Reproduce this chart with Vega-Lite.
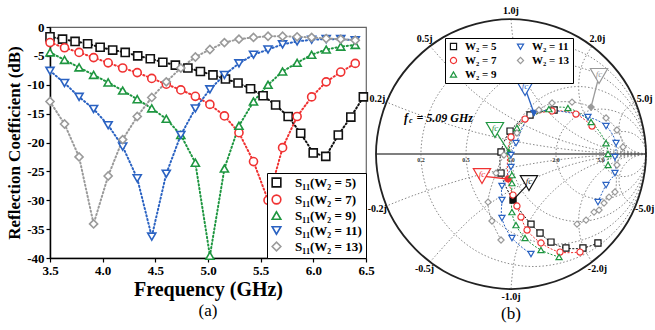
{
"$schema": "https://vega.github.io/schema/vega-lite/v6.json",
"background": "white",
"padding": 5,
"bounds": "flush",
"spacing": 5,
"config": {"font": "Liberation Serif", "view": {"stroke": null}},
"resolve": {"scale": {"color": "independent", "shape": "independent"}, "legend": {"color": "independent", "shape": "independent"}},
"datasets": {
"s11": [
{"s":"S₁₁(W₂ = 5)","f":3.5,"d":-1.7},{"s":"S₁₁(W₂ = 5)","f":3.619,"d":-2.1},{"s":"S₁₁(W₂ = 5)","f":3.738,"d":-2.5},{"s":"S₁₁(W₂ = 5)","f":3.857,"d":-2.9},{"s":"S₁₁(W₂ = 5)","f":3.976,"d":-3.5},{"s":"S₁₁(W₂ = 5)","f":4.095,"d":-4.0},{"s":"S₁₁(W₂ = 5)","f":4.214,"d":-4.4},{"s":"S₁₁(W₂ = 5)","f":4.333,"d":-5.0},{"s":"S₁₁(W₂ = 5)","f":4.452,"d":-5.5},{"s":"S₁₁(W₂ = 5)","f":4.571,"d":-6.1},{"s":"S₁₁(W₂ = 5)","f":4.69,"d":-6.6},{"s":"S₁₁(W₂ = 5)","f":4.809,"d":-7.1},{"s":"S₁₁(W₂ = 5)","f":4.928,"d":-7.7},{"s":"S₁₁(W₂ = 5)","f":5.047,"d":-8.3},{"s":"S₁₁(W₂ = 5)","f":5.166,"d":-9.0},{"s":"S₁₁(W₂ = 5)","f":5.285,"d":-9.7},{"s":"S₁₁(W₂ = 5)","f":5.404,"d":-10.7},{"s":"S₁₁(W₂ = 5)","f":5.523,"d":-11.9},{"s":"S₁₁(W₂ = 5)","f":5.642,"d":-13.5},{"s":"S₁₁(W₂ = 5)","f":5.761,"d":-15.5},{"s":"S₁₁(W₂ = 5)","f":5.88,"d":-18.4},{"s":"S₁₁(W₂ = 5)","f":5.999,"d":-21.8},{"s":"S₁₁(W₂ = 5)","f":6.118,"d":-22.4},{"s":"S₁₁(W₂ = 5)","f":6.237,"d":-18.7},{"s":"S₁₁(W₂ = 5)","f":6.356,"d":-15.6},{"s":"S₁₁(W₂ = 5)","f":6.475,"d":-12.1},
{"s":"S₁₁(W₂ = 7)","f":3.5,"d":-2.7},{"s":"S₁₁(W₂ = 7)","f":3.638,"d":-3.6},{"s":"S₁₁(W₂ = 7)","f":3.776,"d":-4.4},{"s":"S₁₁(W₂ = 7)","f":3.914,"d":-5.3},{"s":"S₁₁(W₂ = 7)","f":4.052,"d":-6.2},{"s":"S₁₁(W₂ = 7)","f":4.19,"d":-7.1},{"s":"S₁₁(W₂ = 7)","f":4.328,"d":-7.9},{"s":"S₁₁(W₂ = 7)","f":4.466,"d":-8.9},{"s":"S₁₁(W₂ = 7)","f":4.604,"d":-9.9},{"s":"S₁₁(W₂ = 7)","f":4.742,"d":-10.9},{"s":"S₁₁(W₂ = 7)","f":4.88,"d":-12.0},{"s":"S₁₁(W₂ = 7)","f":5.018,"d":-13.4},{"s":"S₁₁(W₂ = 7)","f":5.156,"d":-15.4},{"s":"S₁₁(W₂ = 7)","f":5.294,"d":-18.3},{"s":"S₁₁(W₂ = 7)","f":5.432,"d":-23.3},{"s":"S₁₁(W₂ = 7)","f":5.57,"d":-30.0},{"s":"S₁₁(W₂ = 7)","f":5.708,"d":-20.9},{"s":"S₁₁(W₂ = 7)","f":5.846,"d":-15.5},{"s":"S₁₁(W₂ = 7)","f":5.984,"d":-12.1},{"s":"S₁₁(W₂ = 7)","f":6.122,"d":-9.5},{"s":"S₁₁(W₂ = 7)","f":6.26,"d":-7.8},{"s":"S₁₁(W₂ = 7)","f":6.398,"d":-6.3},
{"s":"S₁₁(W₂ = 9)","f":3.5,"d":-4.4},{"s":"S₁₁(W₂ = 9)","f":3.638,"d":-5.7},{"s":"S₁₁(W₂ = 9)","f":3.776,"d":-7.0},{"s":"S₁₁(W₂ = 9)","f":3.914,"d":-8.3},{"s":"S₁₁(W₂ = 9)","f":4.052,"d":-9.6},{"s":"S₁₁(W₂ = 9)","f":4.19,"d":-11.0},{"s":"S₁₁(W₂ = 9)","f":4.328,"d":-12.5},{"s":"S₁₁(W₂ = 9)","f":4.466,"d":-14.1},{"s":"S₁₁(W₂ = 9)","f":4.604,"d":-15.9},{"s":"S₁₁(W₂ = 9)","f":4.742,"d":-18.7},{"s":"S₁₁(W₂ = 9)","f":4.88,"d":-23.5},{"s":"S₁₁(W₂ = 9)","f":5.018,"d":-39.6},{"s":"S₁₁(W₂ = 9)","f":5.156,"d":-24.5},{"s":"S₁₁(W₂ = 9)","f":5.294,"d":-17.1},{"s":"S₁₁(W₂ = 9)","f":5.432,"d":-12.9},{"s":"S₁₁(W₂ = 9)","f":5.57,"d":-10.0},{"s":"S₁₁(W₂ = 9)","f":5.708,"d":-7.7},{"s":"S₁₁(W₂ = 9)","f":5.846,"d":-6.2},{"s":"S₁₁(W₂ = 9)","f":5.984,"d":-4.8},{"s":"S₁₁(W₂ = 9)","f":6.122,"d":-3.9},{"s":"S₁₁(W₂ = 9)","f":6.26,"d":-3.4},{"s":"S₁₁(W₂ = 9)","f":6.398,"d":-3.1},
{"s":"S₁₁(W₂ = 11)","f":3.5,"d":-7.6},{"s":"S₁₁(W₂ = 11)","f":3.638,"d":-9.7},{"s":"S₁₁(W₂ = 11)","f":3.776,"d":-12.1},{"s":"S₁₁(W₂ = 11)","f":3.914,"d":-14.2},{"s":"S₁₁(W₂ = 11)","f":4.052,"d":-17.0},{"s":"S₁₁(W₂ = 11)","f":4.19,"d":-20.7},{"s":"S₁₁(W₂ = 11)","f":4.328,"d":-26.2},{"s":"S₁₁(W₂ = 11)","f":4.466,"d":-36.3},{"s":"S₁₁(W₂ = 11)","f":4.604,"d":-25.4},{"s":"S₁₁(W₂ = 11)","f":4.742,"d":-18.7},{"s":"S₁₁(W₂ = 11)","f":4.88,"d":-14.1},{"s":"S₁₁(W₂ = 11)","f":5.018,"d":-10.8},{"s":"S₁₁(W₂ = 11)","f":5.156,"d":-8.3},{"s":"S₁₁(W₂ = 11)","f":5.294,"d":-6.3},{"s":"S₁₁(W₂ = 11)","f":5.432,"d":-4.8},{"s":"S₁₁(W₂ = 11)","f":5.57,"d":-3.9},{"s":"S₁₁(W₂ = 11)","f":5.708,"d":-3.0},{"s":"S₁₁(W₂ = 11)","f":5.846,"d":-2.5},{"s":"S₁₁(W₂ = 11)","f":5.984,"d":-2.2},{"s":"S₁₁(W₂ = 11)","f":6.122,"d":-2.1},{"s":"S₁₁(W₂ = 11)","f":6.26,"d":-2.1},{"s":"S₁₁(W₂ = 11)","f":6.398,"d":-2.3},
{"s":"S₁₁(W₂ = 13)","f":3.5,"d":-12.9},{"s":"S₁₁(W₂ = 13)","f":3.638,"d":-16.8},{"s":"S₁₁(W₂ = 13)","f":3.776,"d":-22.5},{"s":"S₁₁(W₂ = 13)","f":3.914,"d":-34.1},{"s":"S₁₁(W₂ = 13)","f":4.052,"d":-25.8},{"s":"S₁₁(W₂ = 13)","f":4.19,"d":-19.5},{"s":"S₁₁(W₂ = 13)","f":4.328,"d":-15.5},{"s":"S₁₁(W₂ = 13)","f":4.466,"d":-12.2},{"s":"S₁₁(W₂ = 13)","f":4.604,"d":-9.5},{"s":"S₁₁(W₂ = 13)","f":4.742,"d":-7.1},{"s":"S₁₁(W₂ = 13)","f":4.88,"d":-5.2},{"s":"S₁₁(W₂ = 13)","f":5.018,"d":-3.9},{"s":"S₁₁(W₂ = 13)","f":5.156,"d":-2.7},{"s":"S₁₁(W₂ = 13)","f":5.294,"d":-2.1},{"s":"S₁₁(W₂ = 13)","f":5.432,"d":-1.8},{"s":"S₁₁(W₂ = 13)","f":5.57,"d":-1.6},{"s":"S₁₁(W₂ = 13)","f":5.708,"d":-1.6},{"s":"S₁₁(W₂ = 13)","f":5.846,"d":-1.7},{"s":"S₁₁(W₂ = 13)","f":5.984,"d":-1.8},{"s":"S₁₁(W₂ = 13)","f":6.122,"d":-2.0},{"s":"S₁₁(W₂ = 13)","f":6.26,"d":-2.1},{"s":"S₁₁(W₂ = 13)","f":6.398,"d":-2.3}
],
"rc": [
{"g":"r0.2","i":0,"x":1,"y":0},{"g":"r0.2","i":1,"x":0.888,"y":0.417},{"g":"r0.2","i":2,"x":0.583,"y":0.722},{"g":"r0.2","i":3,"x":0.167,"y":0.833},{"g":"r0.2","i":4,"x":-0.25,"y":0.722},{"g":"r0.2","i":5,"x":-0.555,"y":0.417},{"g":"r0.2","i":6,"x":-0.667,"y":0},{"g":"r0.2","i":7,"x":-0.555,"y":-0.417},{"g":"r0.2","i":8,"x":-0.25,"y":-0.722},{"g":"r0.2","i":9,"x":0.167,"y":-0.833},{"g":"r0.2","i":10,"x":0.583,"y":-0.722},{"g":"r0.2","i":11,"x":0.888,"y":-0.417},
{"g":"r0.5","i":0,"x":1,"y":0},{"g":"r0.5","i":1,"x":0.911,"y":0.333},{"g":"r0.5","i":2,"x":0.667,"y":0.577},{"g":"r0.5","i":3,"x":0.333,"y":0.667},{"g":"r0.5","i":4,"x":0,"y":0.577},{"g":"r0.5","i":5,"x":-0.244,"y":0.333},{"g":"r0.5","i":6,"x":-0.333,"y":0},{"g":"r0.5","i":7,"x":-0.244,"y":-0.333},{"g":"r0.5","i":8,"x":0,"y":-0.577},{"g":"r0.5","i":9,"x":0.333,"y":-0.667},{"g":"r0.5","i":10,"x":0.667,"y":-0.577},{"g":"r0.5","i":11,"x":0.911,"y":-0.333},
{"g":"r1","i":0,"x":1,"y":0},{"g":"r1","i":1,"x":0.933,"y":0.25},{"g":"r1","i":2,"x":0.75,"y":0.433},{"g":"r1","i":3,"x":0.5,"y":0.5},{"g":"r1","i":4,"x":0.25,"y":0.433},{"g":"r1","i":5,"x":0.067,"y":0.25},{"g":"r1","i":6,"x":0,"y":0},{"g":"r1","i":7,"x":0.067,"y":-0.25},{"g":"r1","i":8,"x":0.25,"y":-0.433},{"g":"r1","i":9,"x":0.5,"y":-0.5},{"g":"r1","i":10,"x":0.75,"y":-0.433},{"g":"r1","i":11,"x":0.933,"y":-0.25},
{"g":"r2","i":0,"x":1,"y":0},{"g":"r2","i":1,"x":0.955,"y":0.167},{"g":"r2","i":2,"x":0.833,"y":0.289},{"g":"r2","i":3,"x":0.667,"y":0.333},{"g":"r2","i":4,"x":0.5,"y":0.289},{"g":"r2","i":5,"x":0.378,"y":0.167},{"g":"r2","i":6,"x":0.333,"y":0},{"g":"r2","i":7,"x":0.378,"y":-0.167},{"g":"r2","i":8,"x":0.5,"y":-0.289},{"g":"r2","i":9,"x":0.667,"y":-0.333},{"g":"r2","i":10,"x":0.833,"y":-0.289},{"g":"r2","i":11,"x":0.955,"y":-0.167},
{"g":"r5","i":0,"x":1,"y":0},{"g":"r5","i":1,"x":0.978,"y":0.083},{"g":"r5","i":2,"x":0.917,"y":0.144},{"g":"r5","i":3,"x":0.833,"y":0.167},{"g":"r5","i":4,"x":0.75,"y":0.144},{"g":"r5","i":5,"x":0.689,"y":0.083},{"g":"r5","i":6,"x":0.667,"y":0},{"g":"r5","i":7,"x":0.689,"y":-0.083},{"g":"r5","i":8,"x":0.75,"y":-0.144},{"g":"r5","i":9,"x":0.833,"y":-0.167},{"g":"r5","i":10,"x":0.917,"y":-0.144},{"g":"r5","i":11,"x":0.978,"y":-0.083}
],
"oc": [
{"g":"o","i":0,"x":1,"y":0},{"g":"o","i":1,"x":0.866,"y":0.5},{"g":"o","i":2,"x":0.5,"y":0.866},{"g":"o","i":3,"x":0,"y":1},{"g":"o","i":4,"x":-0.5,"y":0.866},{"g":"o","i":5,"x":-0.866,"y":0.5},{"g":"o","i":6,"x":-1,"y":0},{"g":"o","i":7,"x":-0.866,"y":-0.5},{"g":"o","i":8,"x":-0.5,"y":-0.866},{"g":"o","i":9,"x":0,"y":-1},{"g":"o","i":10,"x":0.5,"y":-0.866},{"g":"o","i":11,"x":0.866,"y":-0.5}
],
"xa": [
{"g":"x0.2","i":0,"x":1,"y":0},{"g":"x0.2","i":1,"x":0.564,"y":0.019},{"g":"x0.2","i":2,"x":0.132,"y":0.076},{"g":"x0.2","i":3,"x":-0.294,"y":0.17},{"g":"x0.2","i":4,"x":-0.71,"y":0.302},{"g":"x0.2","i":5,"x":-0.923,"y":0.385},
{"g":"x0.5","i":0,"x":1,"y":0},{"g":"x0.5","i":1,"x":0.653,"y":0.03},{"g":"x0.5","i":2,"x":0.316,"y":0.121},{"g":"x0.5","i":3,"x":0,"y":0.268},{"g":"x0.5","i":4,"x":-0.286,"y":0.468},{"g":"x0.5","i":5,"x":-0.6,"y":0.8},
{"g":"x1","i":0,"x":1,"y":0},{"g":"x1","i":1,"x":0.741,"y":0.034},{"g":"x1","i":2,"x":0.5,"y":0.134},{"g":"x1","i":3,"x":0.293,"y":0.293},{"g":"x1","i":4,"x":0.134,"y":0.5},{"g":"x1","i":5,"x":0.034,"y":0.741},{"g":"x1","i":6,"x":0,"y":1},
{"g":"x2","i":0,"x":1,"y":0},{"g":"x2","i":1,"x":0.829,"y":0.03},{"g":"x2","i":2,"x":0.679,"y":0.117},{"g":"x2","i":3,"x":0.567,"y":0.25},{"g":"x2","i":4,"x":0.508,"y":0.413},{"g":"x2","i":5,"x":0.508,"y":0.587},{"g":"x2","i":6,"x":0.54,"y":0.695},{"g":"x2","i":7,"x":0.6,"y":0.8},
{"g":"x5","i":0,"x":1,"y":0},{"g":"x5","i":1,"x":0.9,"y":0.027},{"g":"x5","i":2,"x":0.827,"y":0.1},{"g":"x5","i":3,"x":0.8,"y":0.2},{"g":"x5","i":4,"x":0.827,"y":0.3},{"g":"x5","i":5,"x":0.871,"y":0.353},{"g":"x5","i":6,"x":0.923,"y":0.385},
{"g":"x-0.2","i":0,"x":1,"y":0},{"g":"x-0.2","i":1,"x":0.564,"y":-0.019},{"g":"x-0.2","i":2,"x":0.132,"y":-0.076},{"g":"x-0.2","i":3,"x":-0.294,"y":-0.17},{"g":"x-0.2","i":4,"x":-0.71,"y":-0.302},{"g":"x-0.2","i":5,"x":-0.923,"y":-0.385},
{"g":"x-0.5","i":0,"x":1,"y":0},{"g":"x-0.5","i":1,"x":0.653,"y":-0.03},{"g":"x-0.5","i":2,"x":0.316,"y":-0.121},{"g":"x-0.5","i":3,"x":0,"y":-0.268},{"g":"x-0.5","i":4,"x":-0.286,"y":-0.468},{"g":"x-0.5","i":5,"x":-0.6,"y":-0.8},
{"g":"x-1","i":0,"x":1,"y":0},{"g":"x-1","i":1,"x":0.741,"y":-0.034},{"g":"x-1","i":2,"x":0.5,"y":-0.134},{"g":"x-1","i":3,"x":0.293,"y":-0.293},{"g":"x-1","i":4,"x":0.134,"y":-0.5},{"g":"x-1","i":5,"x":0.034,"y":-0.741},{"g":"x-1","i":6,"x":0,"y":-1},
{"g":"x-2","i":0,"x":1,"y":0},{"g":"x-2","i":1,"x":0.829,"y":-0.03},{"g":"x-2","i":2,"x":0.679,"y":-0.117},{"g":"x-2","i":3,"x":0.567,"y":-0.25},{"g":"x-2","i":4,"x":0.508,"y":-0.413},{"g":"x-2","i":5,"x":0.508,"y":-0.587},{"g":"x-2","i":6,"x":0.54,"y":-0.695},{"g":"x-2","i":7,"x":0.6,"y":-0.8},
{"g":"x-5","i":0,"x":1,"y":0},{"g":"x-5","i":1,"x":0.9,"y":-0.027},{"g":"x-5","i":2,"x":0.827,"y":-0.1},{"g":"x-5","i":3,"x":0.8,"y":-0.2},{"g":"x-5","i":4,"x":0.827,"y":-0.3},{"g":"x-5","i":5,"x":0.871,"y":-0.353},{"g":"x-5","i":6,"x":0.923,"y":-0.385}
],
"ax": [{"g":"a","i":0,"x":-1,"y":0},{"g":"a","i":1,"x":1,"y":0}],
"xl": [
{"t":"0.2j","x":-0.99,"y":0.41},{"t":"0.5j","x":-0.64,"y":0.855},{"t":"1.0j","x":0,"y":1.06},{"t":"2.0j","x":0.64,"y":0.855},{"t":"5.0j","x":0.99,"y":0.41},
{"t":"-0.2j","x":-0.99,"y":-0.41},{"t":"-0.5j","x":-0.64,"y":-0.855},{"t":"-1.0j","x":0,"y":-1.06},{"t":"-2.0j","x":0.64,"y":-0.855},{"t":"-5.0j","x":0.99,"y":-0.41}
],
"rl": [
{"t":"0.2","x":-0.667,"y":-0.02},{"t":"0.5","x":-0.333,"y":-0.02},{"t":"1.0","x":0,"y":-0.02},{"t":"2.0","x":0.333,"y":-0.02},{"t":"5.0","x":0.667,"y":-0.02}
],
"sm": [
{"w":"W₂ = 5","i":0,"x":0.644,"y":-0.659,"fc":0},{"w":"W₂ = 5","i":1,"x":0.533,"y":-0.696,"fc":0},{"w":"W₂ = 5","i":2,"x":0.407,"y":-0.696,"fc":0},{"w":"W₂ = 5","i":3,"x":0.296,"y":-0.652,"fc":0},{"w":"W₂ = 5","i":4,"x":0.215,"y":-0.585,"fc":0},{"w":"W₂ = 5","i":5,"x":0.148,"y":-0.519,"fc":0},{"w":"W₂ = 5","i":6,"x":0.015,"y":-0.341,"fc":1},{"w":"W₂ = 5","i":7,"x":-0.074,"y":-0.141,"fc":0},{"w":"W₂ = 5","i":8,"x":-0.074,"y":0.015,"fc":0},{"w":"W₂ = 5","i":9,"x":-0.007,"y":0.17,"fc":0},{"w":"W₂ = 5","i":10,"x":0.141,"y":0.289,"fc":0},{"w":"W₂ = 5","i":11,"x":0.319,"y":0.326,"fc":0},
{"w":"W₂ = 7","i":0,"x":0.511,"y":-0.726,"fc":0},{"w":"W₂ = 7","i":1,"x":0.363,"y":-0.726,"fc":0},{"w":"W₂ = 7","i":2,"x":0.222,"y":-0.659,"fc":0},{"w":"W₂ = 7","i":3,"x":0.119,"y":-0.563,"fc":0},{"w":"W₂ = 7","i":4,"x":0.074,"y":-0.467,"fc":0},{"w":"W₂ = 7","i":5,"x":0.044,"y":-0.385,"fc":0},{"w":"W₂ = 7","i":6,"x":0.015,"y":-0.304,"fc":0},{"w":"W₂ = 7","i":7,"x":-0.022,"y":-0.185,"fc":1},{"w":"W₂ = 7","i":8,"x":0,"y":0.126,"fc":0},{"w":"W₂ = 7","i":9,"x":0.104,"y":0.259,"fc":0},{"w":"W₂ = 7","i":10,"x":0.304,"y":0.319,"fc":0},{"w":"W₂ = 7","i":11,"x":0.481,"y":0.296,"fc":0},{"w":"W₂ = 7","i":12,"x":0.6,"y":0.207,"fc":0},
{"w":"W₂ = 9","i":0,"x":0.356,"y":-0.763,"fc":0},{"w":"W₂ = 9","i":1,"x":0.222,"y":-0.711,"fc":0},{"w":"W₂ = 9","i":2,"x":0.104,"y":-0.622,"fc":0},{"w":"W₂ = 9","i":3,"x":0.037,"y":-0.526,"fc":0},{"w":"W₂ = 9","i":4,"x":0.007,"y":-0.43,"fc":0},{"w":"W₂ = 9","i":5,"x":0.007,"y":-0.215,"fc":0},{"w":"W₂ = 9","i":6,"x":0.007,"y":-0.156,"fc":0},{"w":"W₂ = 9","i":7,"x":-0.015,"y":0.015,"fc":1},{"w":"W₂ = 9","i":8,"x":0.044,"y":0.193,"fc":0},{"w":"W₂ = 9","i":9,"x":0.281,"y":0.333,"fc":0},{"w":"W₂ = 9","i":10,"x":0.422,"y":0.341,"fc":0},{"w":"W₂ = 9","i":11,"x":0.593,"y":0.237,"fc":0},{"w":"W₂ = 9","i":12,"x":0.704,"y":0.081,"fc":0},{"w":"W₂ = 9","i":13,"x":0.719,"y":0,"fc":0},{"w":"W₂ = 9","i":14,"x":0.719,"y":-0.081,"fc":0},
{"w":"W₂ = 11","i":0,"x":0.148,"y":-0.741,"fc":0},{"w":"W₂ = 11","i":1,"x":0.007,"y":-0.622,"fc":0},{"w":"W₂ = 11","i":2,"x":-0.067,"y":-0.474,"fc":0},{"w":"W₂ = 11","i":3,"x":-0.067,"y":-0.341,"fc":0},{"w":"W₂ = 11","i":4,"x":-0.067,"y":-0.237,"fc":0},{"w":"W₂ = 11","i":5,"x":0,"y":-0.096,"fc":0},{"w":"W₂ = 11","i":6,"x":0,"y":-0.007,"fc":0},{"w":"W₂ = 11","i":7,"x":0.037,"y":0.081,"fc":0},{"w":"W₂ = 11","i":8,"x":0.17,"y":0.304,"fc":1},{"w":"W₂ = 11","i":9,"x":0.57,"y":0.274,"fc":0},{"w":"W₂ = 11","i":10,"x":0.704,"y":0.207,"fc":0},{"w":"W₂ = 11","i":11,"x":0.778,"y":0.081,"fc":0},{"w":"W₂ = 11","i":12,"x":0.77,"y":-0.022,"fc":0},{"w":"W₂ = 11","i":13,"x":0.77,"y":-0.141,"fc":0},{"w":"W₂ = 11","i":14,"x":0.704,"y":-0.23,"fc":0},{"w":"W₂ = 11","i":15,"x":0.644,"y":-0.356,"fc":0},
{"w":"W₂ = 13","i":0,"x":-0.074,"y":-0.637,"fc":0},{"w":"W₂ = 13","i":1,"x":-0.141,"y":-0.496,"fc":0},{"w":"W₂ = 13","i":2,"x":-0.17,"y":-0.356,"fc":0},{"w":"W₂ = 13","i":3,"x":-0.111,"y":-0.141,"fc":0},{"w":"W₂ = 13","i":4,"x":-0.052,"y":-0.007,"fc":0},{"w":"W₂ = 13","i":5,"x":0.044,"y":0.156,"fc":0},{"w":"W₂ = 13","i":6,"x":0.207,"y":0.326,"fc":0},{"w":"W₂ = 13","i":7,"x":0.304,"y":0.378,"fc":0},{"w":"W₂ = 13","i":8,"x":0.452,"y":0.385,"fc":0},{"w":"W₂ = 13","i":9,"x":0.593,"y":0.348,"fc":1},{"w":"W₂ = 13","i":10,"x":0.704,"y":0.267,"fc":0},{"w":"W₂ = 13","i":11,"x":0.785,"y":0.178,"fc":0},{"w":"W₂ = 13","i":12,"x":0.83,"y":0.052,"fc":0},{"w":"W₂ = 13","i":13,"x":0.785,"y":-0.081,"fc":0},{"w":"W₂ = 13","i":14,"x":0.77,"y":-0.281,"fc":0},{"w":"W₂ = 13","i":15,"x":0.726,"y":-0.319,"fc":0},{"w":"W₂ = 13","i":16,"x":0.689,"y":-0.363,"fc":0},{"w":"W₂ = 13","i":17,"x":0.652,"y":-0.415,"fc":0},{"w":"W₂ = 13","i":18,"x":0.615,"y":-0.43,"fc":0},{"w":"W₂ = 13","i":19,"x":0.556,"y":-0.489,"fc":0},{"w":"W₂ = 13","i":20,"x":0.489,"y":-0.519,"fc":0}
],
"co": [
{"w":"W₂ = 9","x":-0.119,"y":0.178,"x2":-0.015,"y2":0.015},
{"w":"W₂ = 11","x":0.104,"y":0.489,"x2":0.17,"y2":0.304},
{"w":"W₂ = 13","x":0.652,"y":0.578,"x2":0.593,"y2":0.348},
{"w":"W₂ = 7","x":-0.215,"y":-0.163,"x2":-0.022,"y2":-0.185},
{"w":"W₂ = 5","x":0.133,"y":-0.215,"x2":0.015,"y2":-0.341}
],
"ft": [{"x":-0.793,"y":0.267}],
"fs": [{"x":-0.755,"y":0.245}],
"fe": [{"x":-0.7,"y":0.267}]
},
"hconcat": [
{
"width": 316, "height": 231,
"title": {"text": "(a)", "orient": "bottom", "frame": "group", "offset": 4, "fontSize": 17, "fontWeight": "normal", "font": "Liberation Serif", "color": "black"},
"view": {"stroke": "#666", "strokeWidth": 1.2},
"data": {"name": "s11"},
"encoding": {
"x": {"field": "f", "type": "quantitative", "scale": {"domain": [3.5, 6.5], "nice": false, "zero": false},
 "axis": {"title": "Frequency (GHz)", "values": [3.5, 4, 4.5, 5, 5.5, 6, 6.5], "format": ".1f", "grid": false, "labelFont": "Liberation Serif", "titleFont": "Liberation Serif", "labelFontSize": 13, "labelFontWeight": "bold", "titleFontSize": 20, "titleFontWeight": "bold", "labelColor": "black", "titleColor": "black", "tickSize": 4, "tickColor": "black", "tickWidth": 1.2, "domainColor": "black", "domainWidth": 1.5, "labelPadding": 2, "titlePadding": 2, "labelFlush": false}},
"y": {"field": "d", "type": "quantitative", "scale": {"domain": [-40, 0], "nice": false, "zero": false},
 "axis": {"title": "Reflection Coefficient (dB)", "values": [0, -5, -10, -15, -20, -25, -30, -35, -40], "labelExpr": "'' + datum.value", "grid": false, "labelFont": "Liberation Serif", "titleFont": "Liberation Serif", "labelFontSize": 13, "labelFontWeight": "bold", "titleFontSize": 17, "titleFontWeight": "bold", "labelColor": "black", "titleColor": "black", "tickSize": 4, "tickColor": "black", "tickWidth": 1.2, "domainColor": "black", "domainWidth": 1.5, "labelPadding": 2, "titlePadding": 3, "labelFlush": false}},
"color": {"field": "s", "type": "nominal", "scale": {"domain": ["S₁₁(W₂ = 5)", "S₁₁(W₂ = 7)", "S₁₁(W₂ = 9)", "S₁₁(W₂ = 11)", "S₁₁(W₂ = 13)"], "range": ["#111111", "#f03232", "#1e9640", "#2a62c2", "#9a9a9a"]},
 "legend": {"title": null, "orient": "bottom-right", "offset": 0, "fillColor": "white", "strokeColor": "black", "padding": 3, "labelFont": "Liberation Serif", "labelFontSize": 13, "labelFontWeight": "bold", "labelColor": "black", "symbolSize": 75, "symbolStrokeWidth": 1.6, "symbolFillColor": "white", "rowPadding": 0, "labelOffset": 12}}
},
"layer": [
{"mark": {"type": "line", "strokeDash": [1.2, 2.6], "strokeWidth": 2, "strokeCap": "round"}},
{"mark": {"type": "point", "filled": false, "fill": "white", "fillOpacity": 1, "opacity": 1, "size": 65, "strokeWidth": 1.6},
 "encoding": {"shape": {"field": "s", "type": "nominal", "scale": {"domain": ["S₁₁(W₂ = 5)", "S₁₁(W₂ = 7)", "S₁₁(W₂ = 9)", "S₁₁(W₂ = 11)", "S₁₁(W₂ = 13)"], "range": ["square", "circle", "triangle-up", "triangle-down", "diamond"]},
  "legend": {"title": null, "orient": "bottom-right", "offset": 0, "fillColor": "white", "strokeColor": "black", "padding": 3, "labelFont": "Liberation Serif", "labelFontSize": 13, "labelFontWeight": "bold", "labelColor": "black", "symbolSize": 75, "symbolStrokeWidth": 1.6, "symbolFillColor": "white", "rowPadding": 0, "labelOffset": 12}}}}
]
},
{
"width": 280, "height": 231,
"title": {"text": "(b)", "orient": "bottom", "frame": "group", "offset": 4, "fontSize": 17, "fontWeight": "normal", "font": "Liberation Serif", "color": "black"},
"encoding": {
"x": {"field": "x", "type": "quantitative", "scale": {"domain": [-1.037, 1.037], "nice": false, "zero": false}, "axis": null},
"y": {"field": "y", "type": "quantitative", "scale": {"domain": [-0.77, 0.941], "nice": false, "zero": false}, "axis": null}
},
"layer": [
{"data": {"name": "rc"}, "mark": {"type": "line", "interpolate": "cardinal-closed", "stroke": "#888", "strokeWidth": 1, "strokeDash": [1.5, 2]}, "encoding": {"detail": {"field": "g"}, "order": {"field": "i", "type": "quantitative"}}},
{"data": {"name": "xa"}, "mark": {"type": "line", "interpolate": "catmull-rom", "stroke": "#888", "strokeWidth": 1, "strokeDash": [1.5, 2]}, "encoding": {"detail": {"field": "g"}, "order": {"field": "i", "type": "quantitative"}}},
{"data": {"name": "ax"}, "mark": {"type": "line", "stroke": "#555", "strokeWidth": 1.6}, "encoding": {"order": {"field": "i", "type": "quantitative"}}},
{"data": {"name": "oc"}, "mark": {"type": "line", "interpolate": "cardinal-closed", "stroke": "#222", "strokeWidth": 1.8}, "encoding": {"order": {"field": "i", "type": "quantitative"}}},
{"data": {"name": "xl"}, "mark": {"type": "text", "font": "Liberation Serif", "fontWeight": "bold", "fontSize": 10, "color": "black", "align": "center", "baseline": "middle"}, "encoding": {"text": {"field": "t"}}},
{"data": {"name": "rl"}, "mark": {"type": "text", "font": "Liberation Serif", "fontWeight": "bold", "fontSize": 6, "color": "#333", "align": "center", "baseline": "top"}, "encoding": {"text": {"field": "t"}}},
{"data": {"name": "sm"}, "mark": {"type": "line", "interpolate": "catmull-rom", "strokeWidth": 1, "strokeDash": [2, 1.5]},
 "encoding": {"detail": {"field": "w"}, "order": {"field": "i", "type": "quantitative"},
  "stroke": {"field": "w", "type": "nominal", "scale": {"domain": ["W₂ = 5", "W₂ = 7", "W₂ = 9", "W₂ = 11", "W₂ = 13"], "range": ["#111111", "#f03232", "#1e9640", "#2a62c2", "#9a9a9a"]}, "legend": null}}},
{"data": {"name": "sm"}, "mark": {"type": "point", "filled": false, "opacity": 1, "fillOpacity": 1, "size": 38, "strokeWidth": 1.2},
 "encoding": {
  "fill": {"field": "w", "type": "nominal", "scale": {"domain": ["W₂ = 5", "W₂ = 7", "W₂ = 9", "W₂ = 11", "W₂ = 13"], "range": ["#111111", "#f03232", "#1e9640", "#2a62c2", "#9a9a9a"]}, "legend": null, "condition": {"test": "datum.fc != 1", "value": "white"}},
  "color": {"field": "w", "type": "nominal", "scale": {"domain": ["W₂ = 5", "W₂ = 7", "W₂ = 9", "W₂ = 11", "W₂ = 13"], "range": ["#111111", "#f03232", "#1e9640", "#2a62c2", "#9a9a9a"]},
   "legend": {"title": null, "orient": "none", "legendX": 74, "legendY": 11, "columns": 2, "fillColor": "white", "strokeColor": "black", "padding": 3, "labelFont": "Liberation Serif", "labelFontSize": 11, "labelFontWeight": "bold", "labelColor": "black", "symbolSize": 38, "symbolStrokeWidth": 1.2, "symbolFillColor": "white", "rowPadding": 2, "columnPadding": 18, "labelOffset": 6}},
  "shape": {"field": "w", "type": "nominal", "scale": {"domain": ["W₂ = 5", "W₂ = 7", "W₂ = 9", "W₂ = 11", "W₂ = 13"], "range": ["square", "circle", "triangle-up", "triangle-down", "diamond"]},
   "legend": {"title": null, "orient": "none", "legendX": 74, "legendY": 11, "columns": 2, "fillColor": "white", "strokeColor": "black", "padding": 3, "labelFont": "Liberation Serif", "labelFontSize": 11, "labelFontWeight": "bold", "labelColor": "black", "symbolSize": 38, "symbolStrokeWidth": 1.2, "symbolFillColor": "white", "rowPadding": 2, "columnPadding": 18, "labelOffset": 6}}}},
{"data": {"name": "co"}, "mark": {"type": "rule", "strokeWidth": 1.3}, "encoding": {"x2": {"field": "x2"}, "y2": {"field": "y2"}, "stroke": {"field": "w", "type": "nominal", "legend": null}}},
{"data": {"name": "co"}, "mark": {"type": "point", "shape": "triangle-down", "filled": false, "fill": "white", "fillOpacity": 1, "opacity": 1, "size": 300, "strokeWidth": 1.2},
 "encoding": {"stroke": {"field": "w", "type": "nominal", "legend": null}}},
{"data": {"name": "co"}, "mark": {"type": "text", "text": "fc", "font": "Liberation Serif", "fontStyle": "italic", "fontSize": 9, "dy": -2, "align": "center", "baseline": "middle"},
 "encoding": {"fill": {"field": "w", "type": "nominal", "legend": null}}},
{"data": {"name": "ft"}, "mark": {"type": "text", "text": "f", "font": "Liberation Serif", "fontStyle": "italic", "fontWeight": "bold", "fontSize": 12, "color": "black", "align": "left", "baseline": "middle"}},
{"data": {"name": "fs"}, "mark": {"type": "text", "text": "c", "font": "Liberation Serif", "fontStyle": "italic", "fontWeight": "bold", "fontSize": 8, "color": "black", "align": "left", "baseline": "middle"}},
{"data": {"name": "fe"}, "mark": {"type": "text", "text": "= 5.09 GHz", "font": "Liberation Serif", "fontStyle": "italic", "fontWeight": "bold", "fontSize": 12, "color": "black", "align": "left", "baseline": "middle"}}
]
}
]
}
